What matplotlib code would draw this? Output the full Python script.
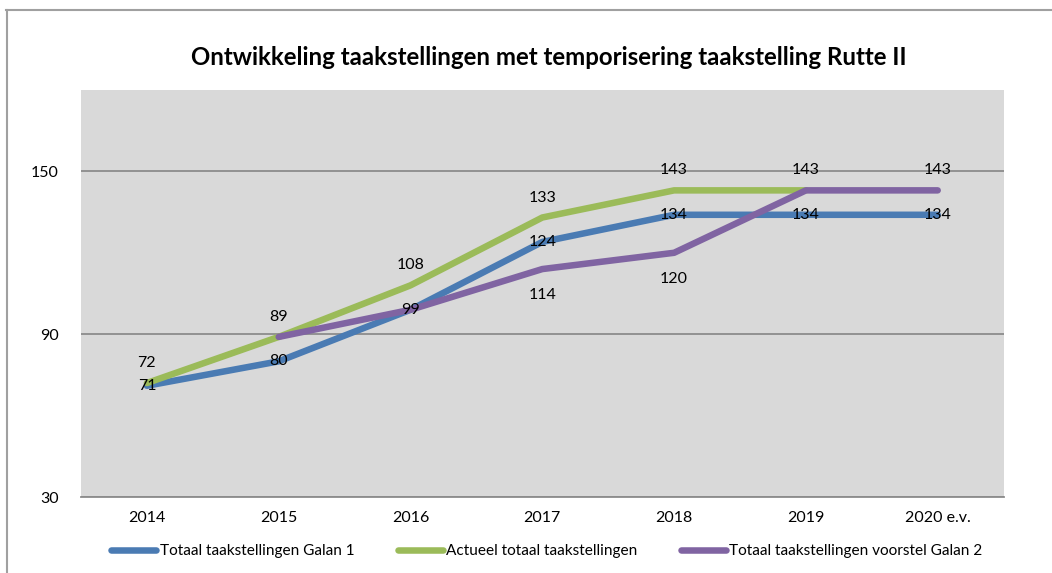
import matplotlib
matplotlib.use("Agg")
import matplotlib.pyplot as plt
from matplotlib.lines import Line2D

years = ["2014", "2015", "2016", "2017", "2018", "2019", "2020 e.v."]
galan1 = [71, 80, 99, 124, 134, 134, 134]
actueel = [72, 89, 108, 133, 143, 143, None]
galan2 = [None, 89, 99, 114, 120, 143, 143]

series = [
    ("Totaal taakstellingen Galan 1", galan1, "#4A7BB3", 0),
    ("Actueel totaal taakstellingen", actueel, "#9BBB59", 20),
    ("Totaal taakstellingen voorstel Galan 2", galan2, "#8064A2", -26),
]

plt.rcParams["font.family"] = ["Lato", "DejaVu Sans"]

fig = plt.figure(figsize=(10.52, 5.73), dpi=100)
ax = fig.add_axes([0.077, 0.1326, 0.877, 0.7104])
ax.set_facecolor("#D9D9D9")

for label, values, color, offset in series:
    xs = [i for i, v in enumerate(values) if v is not None]
    ys = [v for v in values if v is not None]
    ax.plot(xs, ys, color=color, linewidth=4.7, solid_capstyle="round",
            solid_joinstyle="round", label=label, zorder=3)

# data labels: green above, blue centred, purple below
label_points = {
    0: [0, 1, 2, 3, 4, 5, 6],
    1: [0, 1, 2, 3, 4, 5],
    2: [3, 4],
}
for idx, (label, values, color, offset) in enumerate(series):
    for i in label_points[idx]:
        ax.annotate(str(values[i]), (i, values[i]), xytext=(0, offset),
                    textcoords="offset pixels", ha="center", va="center",
                    fontsize=11.5, color="black", zorder=5)
ax.annotate(str(galan2[6]), (6, galan2[6]), xytext=(0, 20),
            textcoords="offset pixels", ha="center", va="center",
            fontsize=11.5, color="black", zorder=5)

ax.set_xlim(-0.5, 6.5)
ax.set_ylim(30, 180)
ax.set_yticks([30, 90, 150])
ax.set_xticks(range(len(years)))
ax.set_xticklabels(years)
ax.yaxis.grid(True, color="#8C8C8C", linewidth=1.3, zorder=1)
ax.set_axisbelow(True)
for side in ["left", "right", "top"]:
    ax.spines[side].set_visible(False)
ax.spines["bottom"].set_color("#8C8C8C")
ax.spines["bottom"].set_linewidth(1.3)
ax.tick_params(axis="both", length=0, labelsize=11.5)
ax.tick_params(axis="y", pad=16)
ax.tick_params(axis="x", pad=10)

fig.text(0.522, 0.9, "Ontwikkeling taakstellingen met temporisering taakstelling Rutte II",
         ha="center", va="center", fontsize=17.3, fontweight="bold")

handles = [Line2D([0], [0], color=c, linewidth=4.7, solid_capstyle="round") for _, _, c, _ in series]
fig.legend(handles, [s[0] for s in series], loc="center", bbox_to_anchor=(0.52, 0.038),
           ncol=3, frameon=False, fontsize=11.1, handlelength=2.9, handletextpad=0.25,
           columnspacing=2.8)

# chart border (top and left visible)
fig.add_artist(Line2D([0.006, 1.0], [0.983, 0.983], color="#A0A0A0", linewidth=1.5))
fig.add_artist(Line2D([0.0065, 0.0065], [0.0, 0.983], color="#A0A0A0", linewidth=1.5))

fig.savefig("out.png", dpi=100)
